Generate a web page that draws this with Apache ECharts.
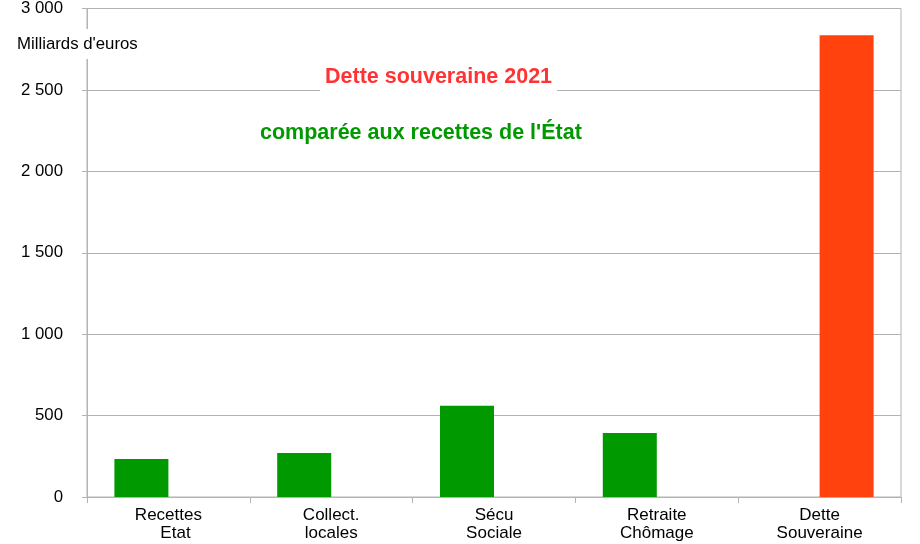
<!DOCTYPE html>
<html>
<head>
<meta charset="utf-8">
<script src="https://cdn.jsdelivr.net/npm/echarts@6/dist/echarts.min.js"></script>
<style>html,body{margin:0;padding:0;background:#fff}#c{width:920px;height:544px}</style>
</head>
<body>
<div id="c"></div>
<script>
const categories = ['Recettes\n   Etat', 'Collect.\nlocales', 'Sécu\nSociale', 'Retraite\nChômage', 'Dette\nSouveraine'];
const recettes = [233, 270, 560, 393, '-'];
const dette = ['-', '-', '-', '-', 2836];
const yTicks = { min: 0, max: 3000, interval: 500 };
const unitLabel = "Milliards d'euros";
const titleText = 'Dette souveraine 2021';
const subtitleText = "comparée aux recettes de l'État";

const chart = echarts.init(document.getElementById('c'));
const font = "'Liberation Sans', Arial, sans-serif";
chart.setOption({
  animation: false,
  backgroundColor: '#fff',
  title: [
    { text: titleText, left: 320, top: 59, padding: [5, 5, 5, 5], backgroundColor: '#fff',
      textStyle: { color: '#ff3333', fontSize: 21.5, fontWeight: 'bold', fontFamily: font, lineHeight: 26 } },
    { text: subtitleText, left: 255, top: 115, padding: [5, 5, 5, 5],
      textStyle: { color: '#009900', fontSize: 21.5, fontWeight: 'bold', fontFamily: font, lineHeight: 26 } },
    { text: unitLabel, left: 15, top: 29, padding: [6, 2, 6, 2], backgroundColor: '#fff',
      textStyle: { color: '#000', fontSize: 16.8, fontWeight: 'normal', fontFamily: font, lineHeight: 18 } }
  ],
  grid: { left: 87, right: 19, top: 8, bottom: 47, show: true, borderColor: '#b3b3b3', borderWidth: 1 },
  xAxis: {
    type: 'category', data: categories,
    axisLine: { lineStyle: { color: '#b3b3b3' } },
    axisTick: { show: true, length: 6, lineStyle: { color: '#b3b3b3' } },
    axisLabel: { color: '#000', fontSize: 17, fontFamily: font, lineHeight: 18, margin: 9, interval: 0 }
  },
  yAxis: {
    type: 'value', min: yTicks.min, max: yTicks.max, interval: yTicks.interval,
    axisLine: { show: true, lineStyle: { color: '#b3b3b3' } },
    axisTick: { show: true, length: 5, lineStyle: { color: '#b3b3b3' } },
    splitLine: { lineStyle: { color: '#b3b3b3' } },
    axisLabel: { color: '#000', fontSize: 16.8, fontFamily: font, margin: 24,
      formatter: v => String(v).replace(/\B(?=(\d{3})+(?!\d))/g, ' ') }
  },
  series: [
    { type: 'bar', data: recettes, barWidth: 54, barGap: '0%', itemStyle: { color: '#009900' } },
    { type: 'bar', data: dette, barWidth: 54, barGap: '0%', itemStyle: { color: '#ff420e' } }
  ]
});
</script>
</body>
</html>
